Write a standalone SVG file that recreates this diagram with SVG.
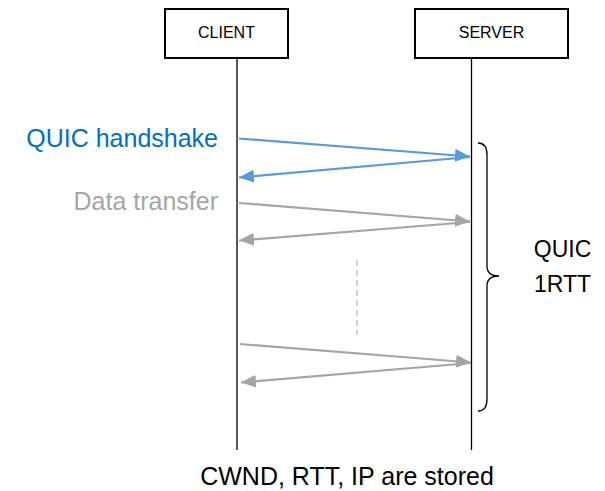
<svg xmlns="http://www.w3.org/2000/svg" width="605" height="491" viewBox="0 0 605 491">
<style>
  text { font-family: "Liberation Sans", Arial, sans-serif; }
  .box { fill: #ffffff; stroke: #000000; stroke-width: 2; }
  .life { stroke: #000000; stroke-width: 1.3; fill: none; }
  .blue { stroke: #5B9BD5; stroke-width: 2.2; fill: none; marker-end: url(#ahBlue); }
  .gray { stroke: #A5A5A5; stroke-width: 2.2; fill: none; marker-end: url(#ahGray); }
  .lbl { font-size: 16px; fill: #000000; text-anchor: middle; }
</style>
<defs>
  <marker id="ahBlue" markerUnits="userSpaceOnUse" markerWidth="16" markerHeight="14" refX="15" refY="6.5" orient="auto">
    <path d="M0,0 L15,6.5 L0,13 Z" fill="#5B9BD5"/>
  </marker>
  <marker id="ahGray" markerUnits="userSpaceOnUse" markerWidth="16" markerHeight="14" refX="15" refY="6.5" orient="auto">
    <path d="M0,0 L15,6.5 L0,13 Z" fill="#A5A5A5"/>
  </marker>
</defs>

<g id="client">
  <rect class="box" x="165" y="9" width="123" height="49"/>
  <text class="lbl" x="226.5" y="37.5">CLIENT</text>
  <line class="life" x1="237" y1="58" x2="237" y2="450"/>
</g>

<g id="server">
  <rect class="box" x="415" y="9" width="153" height="49"/>
  <text class="lbl" x="491.5" y="37.5">SERVER</text>
  <line class="life" x1="471.5" y1="58" x2="471.5" y2="450"/>
</g>

<g id="connectors">
  <line class="blue" x1="239" y1="138.5" x2="470" y2="156.5"/>
  <line class="blue" x1="470" y1="157" x2="239" y2="177.5"/>
  <line class="gray" x1="239" y1="203" x2="470" y2="221.5"/>
  <line class="gray" x1="470" y1="222" x2="239" y2="240.5"/>
  <line class="gray" x1="240" y1="344" x2="471" y2="362.5"/>
  <line class="gray" x1="471" y1="363" x2="241" y2="382.5"/>
  <line x1="357" y1="260" x2="357" y2="335" stroke="#A6A6A6" stroke-width="1" stroke-dasharray="6,4"/>
</g>

<g id="brace">
  <path d="M478,143 C484,143 487,147 487,155 L487,266 C487,272 491,276 499,276 C491,276 487,280 487,286 L487,399 C487,407 484,411 478,411" fill="none" stroke="#000000" stroke-width="1.3"/>
</g>

<g id="labels">
  <text x="218" y="147" font-size="25" fill="#0070C0" text-anchor="end">QUIC handshake</text>
  <text x="218" y="210" font-size="25" fill="#A6A6A6" text-anchor="end">Data transfer</text>
  <text x="562.5" y="257" font-size="23" fill="#000000" text-anchor="middle">QUIC</text>
  <text x="562.5" y="292" font-size="23" fill="#000000" text-anchor="middle">1RTT</text>
  <text x="347" y="485" font-size="25" fill="#000000" text-anchor="middle">CWND, RTT, IP are stored</text>
</g>
</svg>
